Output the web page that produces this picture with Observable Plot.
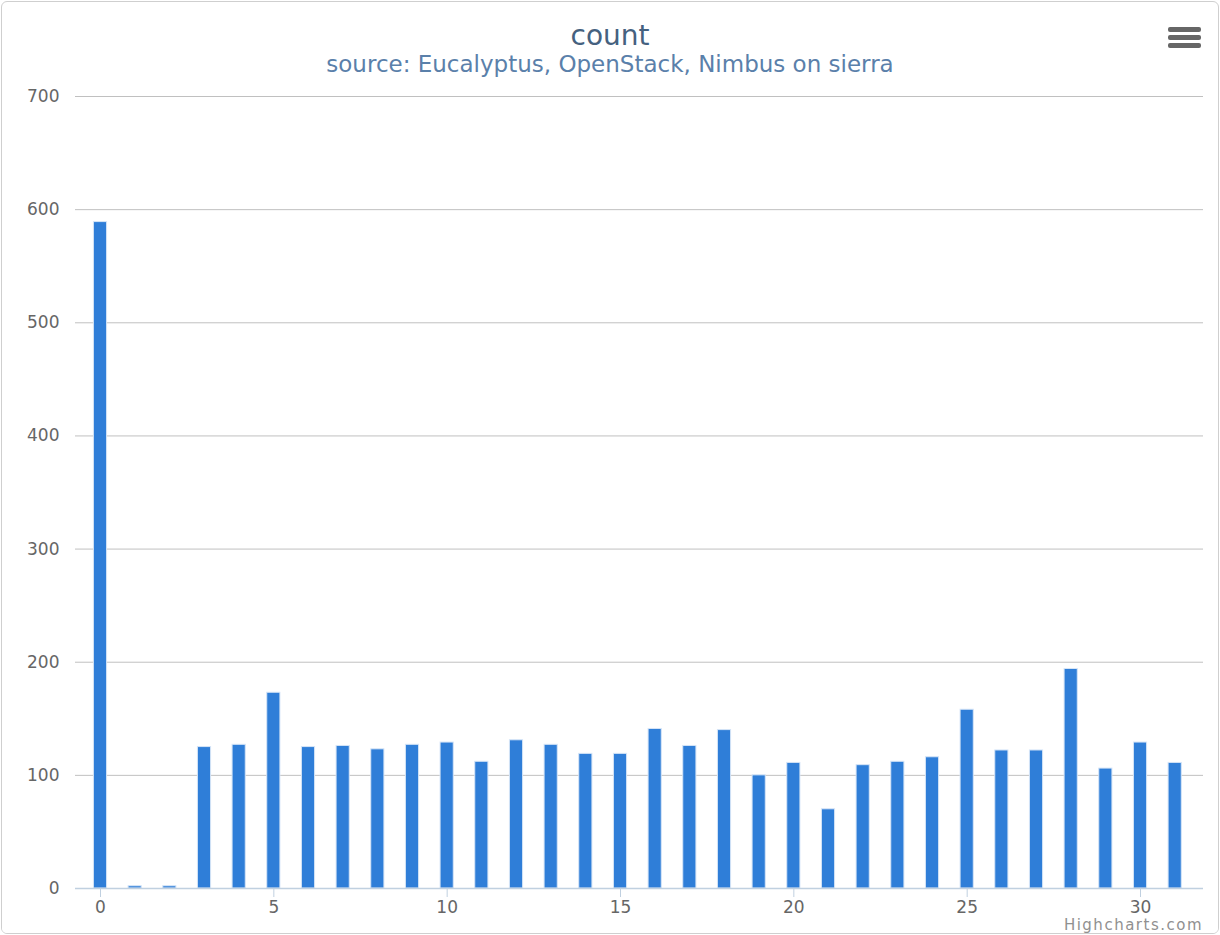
<!DOCTYPE html>
<html>
<head>
<meta charset="utf-8">
<script src="https://cdn.jsdelivr.net/npm/d3@7"></script>
<script src="https://cdn.jsdelivr.net/npm/@observablehq/plot@0.6"></script>
<style>
  html, body { margin: 0; padding: 0; background: #fff; }
  #chart {
    position: relative; width: 1216px; height: 931px; margin: 1px;
    border: 1px solid #cfcfcf; border-radius: 6px; overflow: hidden;
    font-family: "DejaVu Sans", sans-serif;
  }
  #header { height: 78px; position: relative; }
  #title {
    position: absolute; left: 0; right: 0; top: 18px; text-align: center;
    font-size: 28px; line-height: 32px; color: #45617f;
  }
  #subtitle {
    position: absolute; left: 0; right: 0; top: 49px; text-align: center;
    font-size: 23px; line-height: 26px; color: #5a80aa;
  }
  #menu { position: absolute; left: 1166px; top: 25px; width: 33px; height: 24px; }
  #menu span { display: block; height: 5px; margin-bottom: 3px; background: #666; border-radius: 2px; }
  #credits {
    position: absolute; right: 15px; top: 914px; font-size: 15px; letter-spacing: 1.5px;
    color: #909090; line-height: 18px;
  }
  #plot svg { display: block; }
</style>
</head>
<body>
<div id="chart">
  <div id="header">
    <div id="title">count</div>
    <div id="subtitle">source: Eucalyptus, OpenStack, Nimbus on sierra</div>
    <div id="menu"><span></span><span></span><span></span></div>
  </div>
  <div id="plot"></div>
  <div id="credits">Highcharts.com</div>
</div>
<script>
const hours = [0,1,2,3,4,5,6,7,8,9,10,11,12,13,14,15,16,17,18,19,20,21,22,23,24,25,26,27,28,29,30,31];
const counts = [589,2,2,125,127,173,125,126,123,127,129,112,131,127,119,119,141,126,140,100,111,70,109,112,116,158,122,122,194,106,129,111];
const xTicks = [0,5,10,15,20,25,30];
const yTicks = [0,100,200,300,400,500,600,700];

const data = hours.map((h, i) => ({hour: h, count: counts[i]}));
const halfWidth = 0.19;

const plot = Plot.plot({
  width: 1216,
  height: 853,
  marginTop: 16,
  marginBottom: 45,
  marginLeft: 73,
  marginRight: 15,
  style: {fontFamily: "DejaVu Sans, sans-serif", fontSize: "17px", color: "#666", background: "#fff"},
  x: {type: "linear", domain: [-0.721, 31.817], label: null},
  y: {domain: [0, 700], label: null},
  marks: [
    Plot.ruleY(yTicks.filter(d => d > 0), {stroke: "#c0c0c0", strokeWidth: 1}),
    Plot.rectY(data, {
      x1: d => d.hour - halfWidth,
      x2: d => d.hour + halfWidth,
      y1: 0,
      y2: "count",
      fill: "#2f7ed8",
      stroke: "#d6e5f7",
      strokeWidth: 1
    }),
    Plot.ruleY([0], {stroke: "#c0d0e0", strokeWidth: 1.5}),
    Plot.axisY({ticks: yTicks, tickSize: 0, tickPadding: 16, tickFormat: d3.format("d"), fill: "#666"}),
    Plot.axisX({ticks: xTicks, tickSize: 9, tickPadding: 3, stroke: "#c0d0e0", fill: "#666", tickFormat: d3.format("d")})
  ]
});
document.getElementById("plot").appendChild(plot);
</script>
</body>
</html>
